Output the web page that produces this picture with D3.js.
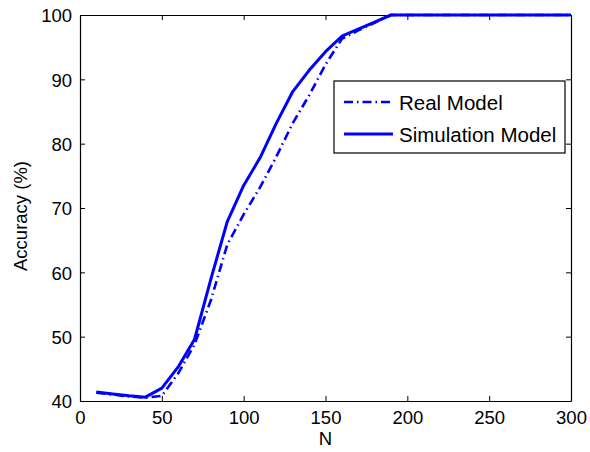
<!DOCTYPE html>
<html>
<head>
<meta charset="utf-8">
<script src="https://cdn.jsdelivr.net/npm/d3@7"></script>
<style>
  body { margin: 0; background: #fff; }
  svg text { font-family: "Liberation Sans", Arial, sans-serif; fill: #000; }
</style>
</head>
<body>
<svg id="chart" width="590" height="452"></svg>
<script>
// N values (shared x for both series)
const nValues = [10, 20, 30, 40, 50, 60, 70, 80, 90, 100, 110, 120, 130, 140, 150, 160, 170, 180, 190, 200, 210, 220, 230, 240, 250, 260, 270, 280, 290, 300];

// accuracy (%)
const realModel = [41.3, 41.0, 40.7, 40.5, 40.8, 44.3, 48.8, 55.7, 64.3, 69.0, 73.2, 78.0, 83.2, 87.5, 92.3, 96.3, 97.6, 98.8, 100, 100, 100, 100, 100, 100, 100, 100, 100, 100, 100, 100];
const simModel  = [41.4, 41.1, 40.8, 40.6, 42.0, 45.3, 49.6, 59.0, 67.9, 73.5, 77.8, 83.2, 88.1, 91.4, 94.3, 96.7, 97.8, 98.9, 100, 100, 100, 100, 100, 100, 100, 100, 100, 100, 100, 100];

const xTicks = [0, 50, 100, 150, 200, 250, 300];
const yTicks = [40, 50, 60, 70, 80, 90, 100];

const legendNames = ["Real Model", "Simulation Model"];

const margin = { top: 15, right: 19, bottom: 51, left: 80 };
const width = 590 - margin.left - margin.right;
const height = 452 - margin.top - margin.bottom;

const svg = d3.select("#chart");
const g = svg.append("g").attr("transform", `translate(${margin.left},${margin.top})`);

const x = d3.scaleLinear().domain([0, 300]).range([0, width]);
const y = d3.scaleLinear().domain([40, 100]).range([height, 0]);

// axes, MATLAB style: ticks pointing inward, box on all sides
const fontSize = 18.5;
const bottomAxis = g.append("g").attr("transform", `translate(0,${height})`)
    .call(d3.axisBottom(x).tickValues(xTicks).tickSizeInner(-5).tickSizeOuter(0).tickPadding(10));
const leftAxis = g.append("g")
    .call(d3.axisLeft(y).tickValues(yTicks).tickSizeInner(-5).tickSizeOuter(0).tickPadding(8));
const topAxis = g.append("g")
    .call(d3.axisTop(x).tickValues(xTicks).tickSizeInner(-5).tickSizeOuter(0).tickFormat(""));
const rightAxis = g.append("g").attr("transform", `translate(${width},0)`)
    .call(d3.axisRight(y).tickValues(yTicks).tickSizeInner(-5).tickSizeOuter(0).tickFormat(""));

[bottomAxis, leftAxis, topAxis, rightAxis].forEach(a => {
    a.select(".domain").attr("stroke", "#000").attr("stroke-width", 1.2);
    a.selectAll(".tick line").attr("stroke", "#000").attr("stroke-width", 1);
    a.selectAll("text").style("font-size", fontSize + "px").attr("fill", "#000");
});
bottomAxis.selectAll("text").attr("dy", "0.71em");
leftAxis.selectAll("text").attr("dy", "0.36em");

// lines
const line = d3.line().x((d, i) => x(nValues[i])).y(d => y(d));

g.append("path")
    .datum(simModel)
    .attr("fill", "none")
    .attr("stroke", "#0000ff")
    .attr("stroke-width", 3)
    .attr("stroke-linejoin", "round")
    .attr("d", line);

g.append("path")
    .datum(realModel)
    .attr("fill", "none")
    .attr("stroke", "#0000ff")
    .attr("stroke-width", 2.6)
    .attr("stroke-dasharray", "9,4,1.5,4")
    .attr("d", line);

// axis labels
svg.append("text")
    .attr("x", margin.left + width / 2)
    .attr("y", 445)
    .attr("text-anchor", "middle")
    .style("font-size", fontSize + "px")
    .text("N");

svg.append("text")
    .attr("transform", `translate(27,216) rotate(-90)`)
    .attr("text-anchor", "middle")
    .style("font-size", fontSize + "px")
    .text("Accuracy (%)");

// legend
const leg = svg.append("g");
leg.append("rect")
    .attr("x", 334).attr("y", 81)
    .attr("width", 231).attr("height", 72)
    .attr("fill", "#fff").attr("stroke", "#000").attr("stroke-width", 1.2);

const legStyles = [
    { dash: "9,4,1.5,4", w: 2.6 },
    { dash: null, w: 3 }
];
legendNames.forEach((name, i) => {
    const cy = 102 + i * 32;
    leg.append("line")
        .attr("x1", 344).attr("x2", 393)
        .attr("y1", cy).attr("y2", cy)
        .attr("stroke", "#0000ff")
        .attr("stroke-width", legStyles[i].w)
        .attr("stroke-dasharray", legStyles[i].dash);
    leg.append("text")
        .attr("x", 399).attr("y", cy + 8)
        .style("font-size", "20.5px")
        .text(name);
});
</script>
</body>
</html>
